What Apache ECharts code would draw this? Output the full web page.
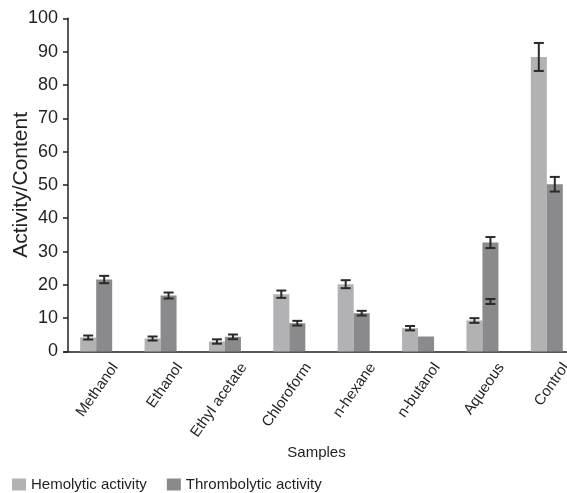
<!DOCTYPE html>
<html>
<head>
<meta charset="utf-8">
<script src="https://cdn.jsdelivr.net/npm/echarts@6/dist/echarts.min.js"></script>
<style>
html,body{margin:0;padding:0;background:#fff;}
#chart{width:567px;height:493px;}
</style>
</head>
<body>
<div id="chart"></div>
<script>
var categories = ['Methanol', 'Ethanol', 'Ethyl acetate', 'Chloroform', 'n-hexane', 'n-butanol', 'Aqueous', 'Control'];
var hemolytic = [4.2, 3.9, 3.0, 17.2, 20.2, 7.0, 9.3, 88.4];
var hemolyticErr = [0.6, 0.6, 0.65, 1.1, 1.2, 0.65, 0.7, 4.2];
var thrombolytic = [21.6, 16.8, 4.4, 8.5, 11.5, 4.5, 32.7, 50.2];
var thrombolyticErr = [1.1, 0.9, 0.7, 0.7, 0.7, null, 1.65, 2.2];
// extra error bar drawn inside the Aqueous thrombolytic bar: [categoryIndex, mean, halfWidth]
var extraThromboErr = [[6, 15.0, 0.75]];
var yTicks = [0, 10, 20, 30, 40, 50, 60, 70, 80, 90, 100];

var FONT = 'Liberation Sans, Arial, sans-serif';
var TXT = '#231f20';
var BAR_W = 16;

function errData(vals, errs) {
  var out = [];
  for (var i = 0; i < vals.length; i++) {
    if (errs[i] == null) continue;
    out.push([i, vals[i] - errs[i], vals[i] + errs[i]]);
  }
  return out;
}

function errRender(dx) {
  return function (params, api) {
    var lo = api.coord([api.value(0), api.value(1)]);
    var hi = api.coord([api.value(0), api.value(2)]);
    var x = lo[0] + dx;
    var cap = 5;
    var st = { stroke: '#2a2a2a', lineWidth: 2 };
    return {
      type: 'group',
      children: [
        { type: 'line', shape: { x1: x, y1: hi[1], x2: x, y2: lo[1] }, style: st },
        { type: 'line', shape: { x1: x - cap, y1: hi[1], x2: x + cap, y2: hi[1] }, style: st },
        { type: 'line', shape: { x1: x - cap, y1: lo[1], x2: x + cap, y2: lo[1] }, style: st }
      ]
    };
  };
}

var extraData = extraThromboErr.map(function (d) { return [d[0], d[1] - d[2], d[1] + d[2]]; });

var chart = echarts.init(document.getElementById('chart'), null, { renderer: 'canvas' });
chart.setOption({
  animation: false,
  backgroundColor: '#ffffff',
  textStyle: { fontFamily: FONT },
  grid: { left: 64, top: 18.3, width: 515, height: 333.2, containLabel: false, outerBoundsMode: 'none' },
  legend: {
    left: 12, top: 477, padding: 0,
    itemWidth: 14, itemHeight: 12, itemGap: 20,
    icon: 'rect',
    textStyle: { fontFamily: FONT, fontSize: 15, color: TXT },
    data: ['Hemolytic activity', 'Thrombolytic activity']
  },
  xAxis: {
    type: 'category',
    data: categories,
    axisLine: { lineStyle: { color: TXT, width: 1.5 } },
    axisTick: { show: false },
    axisLabel: {
      interval: 0, rotate: 55, margin: 0, hideOverlap: false,
      fontFamily: FONT, fontSize: 15, color: TXT,
      verticalAlign: 'top', lineHeight: 46
    },
    name: 'Samples',
    nameLocation: 'middle',
    nameGap: 94,
    nameMoveOverlap: false,
    nameTextStyle: { fontFamily: FONT, fontSize: 15, color: TXT, padding: [0, 10, 0, 0] }
  },
  yAxis: {
    type: 'value',
    min: yTicks[0], max: yTicks[yTicks.length - 1], interval: 10,
    offset: -4,
    splitLine: { show: false },
    axisLine: { show: true, lineStyle: { color: TXT, width: 1.5 } },
    axisTick: { show: true, length: 5, lineStyle: { color: TXT, width: 1.5 } },
    axisLabel: { fontFamily: FONT, fontSize: 18, color: TXT, margin: 10 },
    name: 'Activity/Content',
    nameLocation: 'middle',
    nameGap: 36,
    nameMoveOverlap: false,
    nameTextStyle: { fontFamily: FONT, fontSize: 21, color: TXT }
  },
  series: [
    { name: 'Hemolytic activity', type: 'bar', data: hemolytic, barWidth: BAR_W, barGap: '0%',
      itemStyle: { color: '#b2b2b4' } },
    { name: 'Thrombolytic activity', type: 'bar', data: thrombolytic, barWidth: BAR_W, barGap: '0%',
      itemStyle: { color: '#8a8a8c' } },
    { type: 'custom', renderItem: errRender(-BAR_W / 2), data: errData(hemolytic, hemolyticErr), z: 10 },
    { type: 'custom', renderItem: errRender(BAR_W / 2), data: errData(thrombolytic, thrombolyticErr), z: 10 },
    { type: 'custom', renderItem: errRender(BAR_W / 2), data: extraData, z: 10 }
  ]
});
</script>
</body>
</html>
